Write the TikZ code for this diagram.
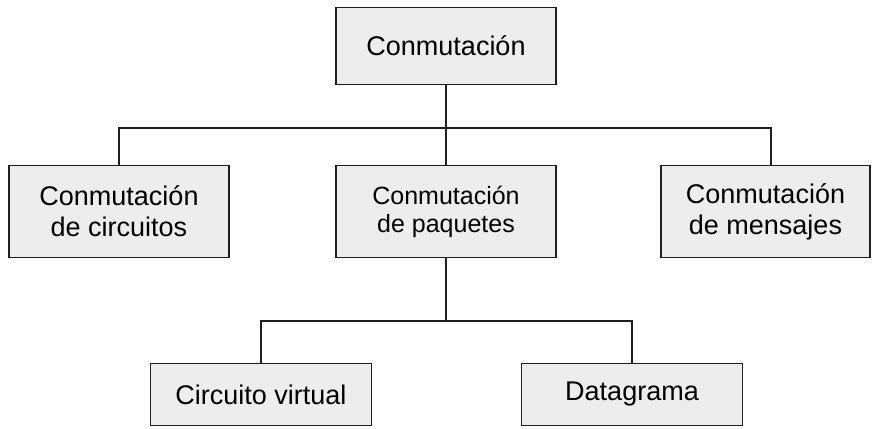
\documentclass[tikz,border=0pt]{standalone}
\usepackage{fontspec}
\setmainfont{Liberation Sans}
\begin{document}
\begin{tikzpicture}[x=1pt,y=-1pt,
  box/.style={draw=black!88, fill=gray!14, line width=1.8pt, align=center, inner sep=0pt,
    font=\fontsize{27}{31}\selectfont},
  link/.style={draw=black!88, line width=1.8pt, line join=miter}]
\useasboundingbox (0,0) rectangle (872,428);
\node[box, minimum width=220pt, minimum height=77pt] (top) at (446,46) {Conmutación};
\node[box, minimum width=220pt, minimum height=92pt] (left) at (119,211.5) {Conmutación\\de circuitos};
\node[box, minimum width=220pt, minimum height=92pt, font=\fontsize{25}{28}\selectfont] (mid) at (446,211.5) {Conmutación\\de paquetes};
\node[box, minimum width=209pt, minimum height=92pt] (right) at (765.5,211.5) {Conmutación\\de mensajes};
\node[box, minimum width=221pt, minimum height=62pt] (bl) at (261,394.5) {Circuito virtual};
\node[box, minimum width=221pt, minimum height=62pt] (br) at (632,394.5) {Datagrama};
\coordinate (jr) at (771,128);
\coordinate (jb) at (632,321);
\draw[link] (top.south) -- (mid.north);
\draw[link] (left.north) |- (jr) -- (jr |- right.north);
\draw[link] (mid.south) -- (mid.south |- jb);
\draw[link] (bl.north) |- (jb) -- (br.north);
\end{tikzpicture}
\end{document}
